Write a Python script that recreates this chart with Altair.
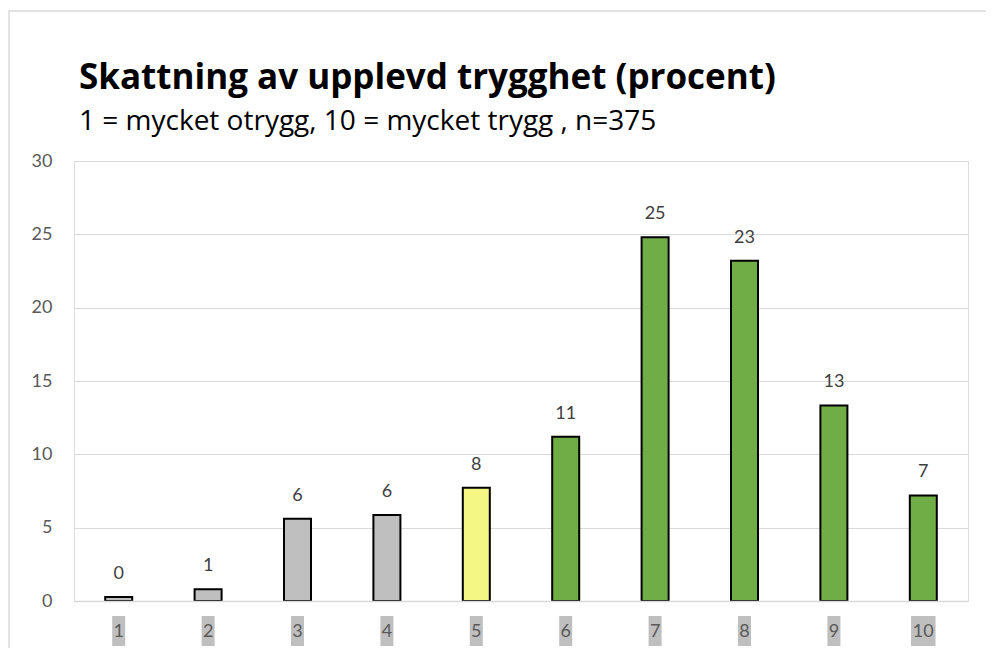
import altair as alt
import pandas as pd

# ---- data ----
categories = ["1", "2", "3", "4", "5", "6", "7", "8", "9", "10"]
percent = [0.27, 0.8, 5.6, 5.87, 7.73, 11.2, 24.8, 23.2, 13.33, 7.2]
group = ["otrygg", "otrygg", "otrygg", "otrygg", "neutral",
         "trygg", "trygg", "trygg", "trygg", "trygg"]
y_ticks = [0, 5, 10, 15, 20, 25, 30]

title_text = "Skattning av upplevd trygghet (procent)"
subtitle_text = "1 = mycket otrygg, 10 = mycket trygg , n=375"

df = pd.DataFrame({"cat": categories, "pct": percent, "grp": group})
df["boxw"] = df["cat"].str.len() * 11.5 + 1.5

W, H = 894, 440
FONT = "Lato"
TFONT = "Open Sans"

x_enc = alt.X(
    "cat:N",
    sort=categories,
    scale=alt.Scale(paddingInner=0, paddingOuter=0),
    axis=alt.Axis(
        title=None,
        labelAngle=0,
        labelFont=FONT,
        labelFontSize=18,
        labelColor="#595959",
        labelBaseline="middle",
        labelPadding=30,
        ticks=False,
        tickSize=0,
        domainColor="#d9d9d9",
        domainWidth=1.5,
        zindex=1,
    ),
)

y_enc = alt.Y(
    "pct:Q",
    scale=alt.Scale(domain=[0, 30], nice=False),
    axis=alt.Axis(
        title=None,
        values=y_ticks,
        labelFont=FONT,
        labelFontSize=18,
        labelColor="#595959",
        labelPadding=22,
        ticks=False,
        tickSize=0,
        domain=False,
        gridColor="#d9d9d9",
        gridWidth=1.2,
    ),
)

base = alt.Chart(df)

label_boxes = base.mark_bar(color="#bfbfbf").encode(
    x=x_enc,
    y=alt.value(H + 15),
    y2=alt.value(H + 45),
    size=alt.Size("boxw:Q", scale=None, legend=None),
)

bars = base.mark_bar(size=27, stroke="black", strokeWidth=2).encode(
    x=x_enc,
    y=y_enc,
    color=alt.Color(
        "grp:N",
        scale=alt.Scale(domain=["otrygg", "neutral", "trygg"],
                        range=["#bfbfbf", "#f4f784", "#70ad47"]),
        legend=None,
    ),
)

labels = base.mark_text(
    font=FONT, fontSize=18, color="#404040", baseline="alphabetic", dy=-18
).encode(
    x=alt.X("cat:N", sort=categories),
    y="pct:Q",
    text=alt.Text("pct:Q", format=".0f"),
)

border = alt.Chart(pd.DataFrame({"k": [0]})).mark_rect(
    fillOpacity=0, stroke="#d9d9d9", strokeWidth=1.5
).encode(
    x=alt.value(-65), x2=alt.value(2000),
    y=alt.value(-150), y2=alt.value(2000),
)

chart = alt.layer(border, label_boxes, bars, labels).properties(
    width=W,
    height=H,
    padding={"left": 66, "top": 153, "right": 18, "bottom": 47},
    autosize=alt.AutoSizeParams(type="none"),
    title=alt.TitleParams(
        text=title_text,
        subtitle=subtitle_text,
        anchor="start",
        frame="group",
        font=TFONT,
        fontSize=35,
        fontWeight="bold",
        color="black",
        subtitleFont=TFONT,
        subtitleFontSize=28,
        subtitleColor="black",
        subtitlePadding=12,
        offset=-126,
        dx=5,
    ),
).configure_view(stroke="transparent", strokeWidth=0).configure(background="white")

chart.save("out.html", embed_options={"renderer": "svg", "actions": False})
